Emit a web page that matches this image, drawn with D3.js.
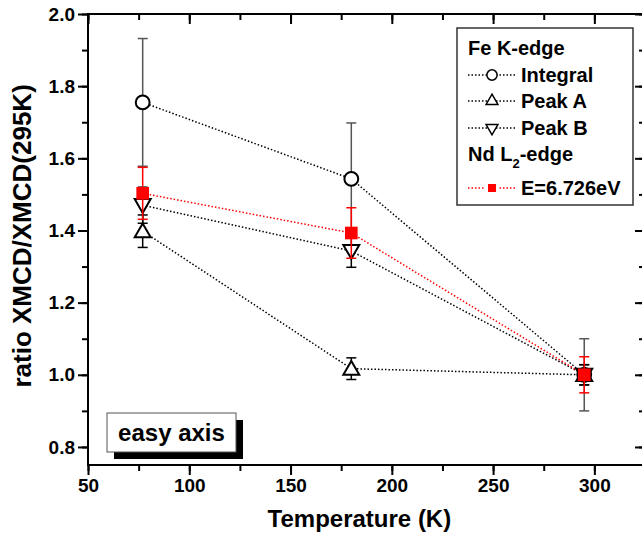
<!DOCTYPE html>
<html>
<head>
<meta charset="utf-8">
<script src="https://cdn.jsdelivr.net/npm/d3@7"></script>
<style>
  body { margin: 0; background: #fff; }
  svg text { font-family: "Liberation Sans", Arial, sans-serif; font-weight: bold; }
</style>
</head>
<body>
<div id="chart"></div>
<script>
// temperatures (K)
const temps = [77, 180, 295];

// Fe K-edge
const integral = [1.755, 1.543, 1.0];
const integralErr = [0.177, 0.155, 0.1];
const peakA = [1.398, 1.017, 1.0];
const peakAErr = [0.045, 0.03, 0.028];
const peakB = [1.47, 1.343, 1.0];
const peakBErr = [0.05, 0.045, 0.028];

// Nd L2-edge
const ndE = [1.503, 1.393, 1.0];
const ndErr = [0.072, 0.07, 0.05];

const xTicks = [50, 100, 150, 200, 250, 300];
const yTicks = [0.8, 1.0, 1.2, 1.4, 1.6, 1.8, 2.0];

const W = 642, H = 535;
const margin = { top: 14, right: -3, bottom: 70, left: 88 };
const width = W - margin.left - margin.right;
const height = H - margin.top - margin.bottom;

const svg = d3.select("#chart").append("svg")
  .attr("width", W).attr("height", H);

const g = svg.append("g")
  .attr("transform", `translate(${margin.left},${margin.top})`);

const x = d3.scaleLinear().domain([50, 325]).range([0, width]);
const y = d3.scaleLinear().domain([0.75, 2.0]).range([height, 0]);

const xMinor = d3.range(50, 326, 25);
const yMinor = d3.range(0.8, 2.001, 0.1);

// frame
g.append("rect")
  .attr("width", width).attr("height", height)
  .attr("fill", "none").attr("stroke", "#000").attr("stroke-width", 2);

function styleAxis(sel) {
  sel.select(".domain").remove();
  sel.selectAll("line").attr("stroke", "#000").attr("stroke-width", 2);
  sel.selectAll("text").style("font-size", "19px").attr("fill", "#000");
}

// bottom axis
g.append("g").attr("transform", `translate(0,${height})`)
  .call(d3.axisBottom(x).tickValues(xMinor).tickSize(6).tickFormat(""))
  .call(styleAxis);
g.append("g").attr("transform", `translate(0,${height})`)
  .call(d3.axisBottom(x).tickValues(xTicks).tickSize(10).tickPadding(4).tickFormat(d3.format("d")))
  .call(styleAxis);

// top axis (inward)
g.append("g")
  .call(d3.axisBottom(x).tickValues(xMinor).tickSize(6).tickFormat(""))
  .call(styleAxis);
g.append("g")
  .call(d3.axisBottom(x).tickValues(xTicks).tickSize(10).tickFormat(""))
  .call(styleAxis);

// left axis
g.append("g")
  .call(d3.axisLeft(y).tickValues(yMinor).tickSize(6).tickFormat(""))
  .call(styleAxis);
g.append("g")
  .call(d3.axisLeft(y).tickValues(yTicks).tickSize(10).tickPadding(3).tickFormat(d3.format(".1f")))
  .call(styleAxis);

// right axis (inward)
g.append("g").attr("transform", `translate(${width},0)`)
  .call(d3.axisLeft(y).tickValues(yMinor).tickSize(6).tickFormat(""))
  .call(styleAxis);
g.append("g").attr("transform", `translate(${width},0)`)
  .call(d3.axisLeft(y).tickValues(yTicks).tickSize(10).tickFormat(""))
  .call(styleAxis);

// axis titles
svg.append("text")
  .attr("x", margin.left + x(184)).attr("y", 527)
  .attr("text-anchor", "middle").style("font-size", "24px")
  .text("Temperature (K)");

svg.append("text")
  .attr("transform", `translate(31,${margin.top + y(1.385)}) rotate(-90)`)
  .attr("text-anchor", "middle").style("font-size", "26px")
  .text("ratio XMCD/XMCD(295K)");

// series
const series = [
  { name: "Integral", vals: integral, err: integralErr, color: "#000", errColor: "#555",
    symbol: d3.symbolCircle, size: 150, rot: 0, fill: "#fff" },
  { name: "Peak A", vals: peakA, err: peakAErr, color: "#000", errColor: "#000",
    symbol: d3.symbolTriangle, size: 110, rot: 0, fill: "#fff" },
  { name: "Peak B", vals: peakB, err: peakBErr, color: "#000", errColor: "#000",
    symbol: d3.symbolTriangle, size: 110, rot: 180, fill: "#fff" },
  { name: "E=6.726eV", vals: ndE, err: ndErr, color: "#f00", errColor: "#f00",
    symbol: d3.symbolSquare, size: 160, rot: 0, fill: "#f00" }
];

const line = d3.line().x((d, i) => x(temps[i])).y(d => y(d));

series.forEach(s => {
  g.append("path")
    .attr("d", line(s.vals))
    .attr("fill", "none").attr("stroke", s.color)
    .attr("stroke-width", 1.5).attr("stroke-dasharray", "1.5,2");
});

series.forEach(s => {
  const eb = g.append("g").attr("stroke", s.errColor).attr("stroke-width", 1.5);
  s.vals.forEach((v, i) => {
    const cx = x(temps[i]);
    const top = y(v + s.err[i]), bot = y(v - s.err[i]);
    eb.append("line").attr("x1", cx).attr("x2", cx).attr("y1", top).attr("y2", bot);
    eb.append("line").attr("x1", cx - 5).attr("x2", cx + 5).attr("y1", top).attr("y2", top);
    eb.append("line").attr("x1", cx - 5).attr("x2", cx + 5).attr("y1", bot).attr("y2", bot);
  });
  const sym = d3.symbol().type(s.symbol).size(s.size);
  g.selectAll(null).data(s.vals).join("path")
    .attr("d", sym())
    .attr("transform", (d, i) => {
      const off = s.symbol === d3.symbolTriangle ? (s.rot ? -1.5 : 1.5) : 0;
      return `translate(${x(temps[i])},${y(d) + off}) rotate(${s.rot})`;
    })
    .attr("fill", s.fill)
    .attr("stroke", s.color === "#f00" ? "none" : "#000")
    .attr("stroke-width", 2);
});

// legend
const lg = svg.append("g").attr("transform", "translate(457,28)");
lg.append("rect").attr("width", 176).attr("height", 177)
  .attr("fill", "#fff").attr("stroke", "#333").attr("stroke-width", 1.5);

lg.append("text").attr("x", 11).attr("y", 27).style("font-size", "20px").text("Fe K-edge");

const rows = [
  { s: series[0], y: 47 },
  { s: series[1], y: 73 },
  { s: series[2], y: 100 },
  { s: series[3], y: 160 }
];
rows.forEach(r => {
  lg.append("line").attr("x1", 11).attr("x2", 58).attr("y1", r.y).attr("y2", r.y)
    .attr("stroke", r.s.color).attr("stroke-width", 1.5).attr("stroke-dasharray", "1.5,2");
  const sz = r.s.symbol === d3.symbolSquare ? 120 : r.s.size * 0.55;
  lg.append("path")
    .attr("d", d3.symbol().type(r.s.symbol).size(sz)())
    .attr("transform", `translate(35,${r.y}) rotate(${r.s.rot})`)
    .attr("fill", r.s.symbol === d3.symbolSquare ? "#f00" : "#fff")
    .attr("stroke", r.s.symbol === d3.symbolSquare ? "#fff" : "#000")
    .attr("stroke-width", r.s.symbol === d3.symbolSquare ? 3 : 1.5);
  lg.append("text").attr("x", 64).attr("y", r.y + 7).style("font-size", "20px").text(r.s.name);
});

const nd = lg.append("text").attr("x", 11).attr("y", 133).style("font-size", "20px");
nd.append("tspan").text("Nd L");
nd.append("tspan").attr("dy", 7).style("font-size", "13px").text("2");
nd.append("tspan").attr("dy", -7).text("-edge");

// easy axis label
const ea = svg.append("g").attr("transform", "translate(107,413)");
ea.append("rect").attr("x", 7).attr("y", 7).attr("width", 129).attr("height", 39).attr("fill", "#000");
ea.append("rect").attr("width", 129).attr("height", 39)
  .attr("fill", "#fff").attr("stroke", "#555").attr("stroke-width", 1);
ea.append("text").attr("x", 64.5).attr("y", 28).attr("text-anchor", "middle")
  .style("font-size", "24px").text("easy axis");
</script>
</body>
</html>
